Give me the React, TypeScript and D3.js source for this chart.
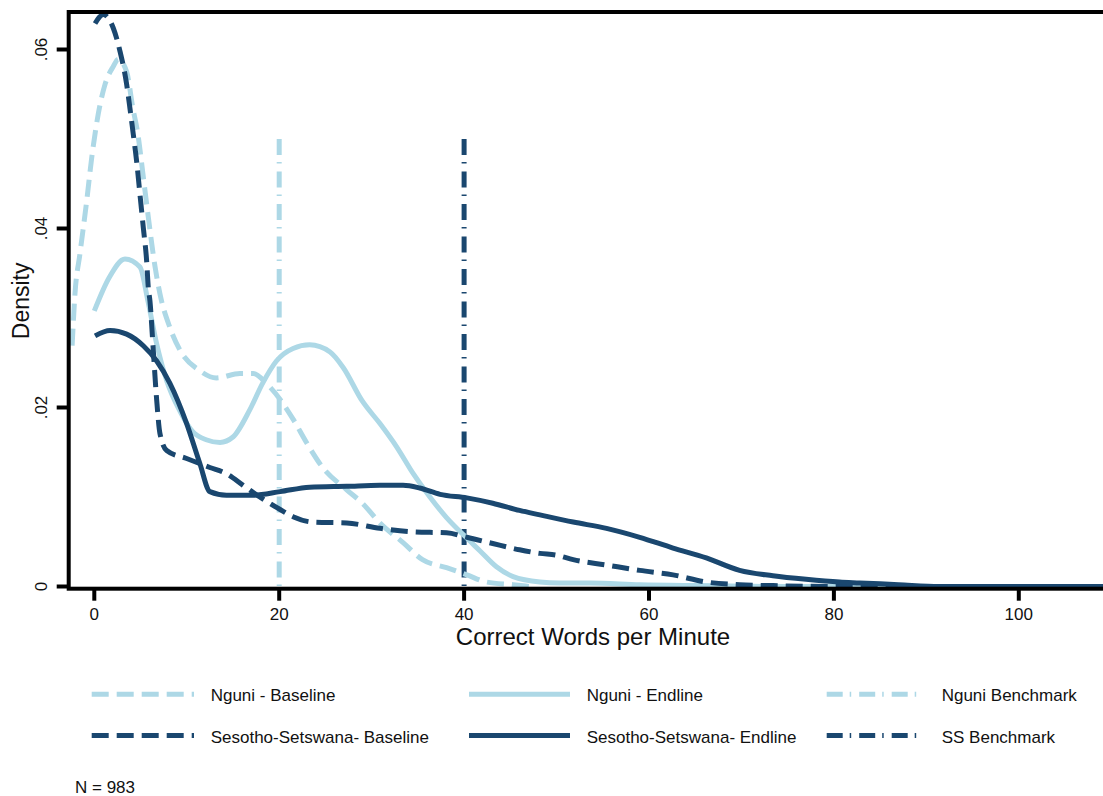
import React from "react";
import * as d3 from "d3";

// Kernel density curves: [correct words per minute, density]
const nguniBaseline: [number, number][] = [
  [-2.4, 0.0269], [-2.09, 0.0327], [-1.55, 0.0372], [-0.82, 0.0431], [-0.28, 0.0479],
  [0.43, 0.0528], [1.16, 0.0561], [2.05, 0.0581], [2.6, 0.0589], [3.5, 0.0575],
  [4.18, 0.0534], [4.72, 0.0505], [5.26, 0.0461], [5.8, 0.0416], [6.56, 0.0358],
  [7.1, 0.0327], [8.19, 0.0289], [9.27, 0.0264], [11.43, 0.0241], [13.2, 0.0233],
  [15.75, 0.0238], [17.2, 0.0238], [18.6, 0.0227], [20.1, 0.0209], [21.5, 0.0187],
  [23.0, 0.016], [24.7, 0.0133], [27.3, 0.0108], [29.0, 0.0093], [30.9, 0.0071],
  [33.4, 0.0049], [35.5, 0.003], [38.1, 0.0021], [40.3, 0.0013], [42.4, 0.0005],
  [45.3, 0.0002], [47.1, 0.0],
];

const nguniEndline: [number, number][] = [
  [0, 0.0308], [1.6, 0.0345], [3.32, 0.0366], [4.94, 0.0357], [5.8, 0.0319],
  [6.75, 0.0271], [7.83, 0.023], [9.26, 0.0196], [10.65, 0.0173], [12.1, 0.0164],
  [13.6, 0.0161], [15.0, 0.0167], [16.8, 0.0197], [18.2, 0.0227], [19.7, 0.0252],
  [21.5, 0.0266], [23.3, 0.027], [25.5, 0.0262], [26.9, 0.0245], [29.0, 0.0207],
  [30.9, 0.0182], [32.7, 0.0156], [34.5, 0.0126], [36.3, 0.01], [38.1, 0.0077],
  [39.9, 0.0058], [41.7, 0.004], [43.5, 0.0022], [45.3, 0.0011], [48.2, 0.0005],
  [50.3, 0.0004], [53.6, 0.0004], [59.0, 0.0002], [65.5, 0.0001], [75.0, 0.0], [90.0, 0.0],
];

const ssBaseline: [number, number][] = [
  [0.08, 0.0629], [0.97, 0.0639], [2.05, 0.0624], [2.78, 0.0598], [3.5, 0.0561],
  [3.86, 0.0534], [4.22, 0.0505], [4.58, 0.0475], [4.94, 0.0438], [5.3, 0.0401],
  [5.66, 0.0364], [5.84, 0.0334], [6.02, 0.0319], [6.38, 0.0264], [6.75, 0.0208],
  [7.1, 0.0171], [7.83, 0.0152], [9.99, 0.0143], [12.5, 0.0133], [14.3, 0.0126],
  [16.1, 0.0113], [17.9, 0.01], [20.1, 0.0086], [21.5, 0.0078], [23.6, 0.0072],
  [27.3, 0.0071], [30.9, 0.0065], [34.5, 0.0061], [38.1, 0.006], [40.3, 0.0055],
  [43.1, 0.0048], [46.0, 0.0041], [48.2, 0.0037], [50.0, 0.0035], [51.8, 0.003],
  [55.4, 0.0024], [59.0, 0.0018], [62.6, 0.0013], [66.2, 0.0005], [69.8, 0.0002],
  [73.4, 0.0001], [80.0, 0.0], [95.0, 0.0],
];

const ssEndline: [number, number][] = [
  [0.08, 0.028], [1.7, 0.0286], [3.5, 0.0282], [5.3, 0.0269], [6.75, 0.0252],
  [8.18, 0.0227], [9.99, 0.0182], [11.4, 0.0138], [12.5, 0.0106], [14.3, 0.0102],
  [17.2, 0.0102], [20.1, 0.0106], [23.3, 0.0111], [27.3, 0.0112], [30.9, 0.0113],
  [33.4, 0.0113], [35.2, 0.011], [37.4, 0.0103], [40.3, 0.0099], [43.1, 0.0093],
  [46.0, 0.0085], [48.2, 0.008], [51.8, 0.0072], [55.4, 0.0065], [59.0, 0.0055],
  [62.6, 0.0043], [66.2, 0.0032], [69.8, 0.0018], [73.4, 0.0012], [77.0, 0.0008],
  [80.6, 0.0005], [82.8, 0.0004], [87.0, 0.0002], [91.4, 0.0], [116.0, 0.0],
];

const nguniBenchmark = 20;
const ssBenchmark = 40;
const benchmarkTop = 0.05;

const xTicks = [0, 20, 40, 60, 80, 100];
const yTicks = [0, 0.02, 0.04, 0.06];
const yTickLabels = ["0", ".02", ".04", ".06"];

const legendLabels = [
  "Nguni - Baseline",
  "Nguni - Endline",
  "Nguni Benchmark",
  "Sesotho-Setswana- Baseline",
  "Sesotho-Setswana- Endline",
  "SS Benchmark",
];

const LIGHT = "#add8e6";
const DARK = "#1a476f";
const FONT = "'Liberation Sans', Arial, Helvetica, sans-serif";

export default function App() {
  const W = 1103;
  const H = 796;
  const left = 68.7;
  const top = 12;
  const bottom = 588.7;
  const right = 1117;

  const x = d3.scaleLinear().domain([0, 100]).range([94.3, 1018.8]);
  const y = d3.scaleLinear().domain([0, 0.06]).range([586.5, 49.5]);

  const line = d3
    .line<[number, number]>()
    .x((d) => x(d[0]))
    .y((d) => y(d[1]))
    .curve(d3.curveMonotoneX);

  const dash = "17 8";
  const dashDot = "16 7 1.5 8";

  const series = [
    { data: nguniBaseline, color: LIGHT, dash },
    { data: nguniEndline, color: LIGHT, dash: undefined },
    { data: ssBaseline, color: DARK, dash },
    { data: ssEndline, color: DARK, dash: undefined },
  ];

  const legendItems = [
    { color: LIGHT, dash: dash },
    { color: LIGHT, dash: undefined },
    { color: LIGHT, dash: dashDot },
    { color: DARK, dash: dash },
    { color: DARK, dash: undefined },
    { color: DARK, dash: dashDot },
  ];
  const colLineX = [91.7, 469, 826.7];
  const colLineW = [102.3, 101, 97.3];
  const colTextX = [210.7, 586.7, 941.7];
  const rowY = [694.3, 735.5];

  return (
    <div style={{ position: "fixed", left: 0, top: 0, width: W, height: H, background: "#fff" }}>
      <svg width={W} height={H} viewBox={`0 0 ${W} ${H}`} style={{ display: "block", fontFamily: FONT }}>
        <rect x={0} y={0} width={W} height={H} fill="#fff" />
        <defs>
          <clipPath id="plotclip">
            <rect x={left} y={top} width={right - left} height={bottom - top} />
          </clipPath>
        </defs>

        {/* benchmark lines */}
        <g clipPath="url(#plotclip)">
          {[
            { v: nguniBenchmark, color: LIGHT },
            { v: ssBenchmark, color: DARK },
          ].map((b, i) => (
            <line
              key={i}
              x1={x(b.v)}
              x2={x(b.v)}
              y1={y(benchmarkTop)}
              y2={y(0)}
              stroke={b.color}
              strokeWidth={5}
              strokeDasharray={dashDot}
            />
          ))}
          {series.map((s, i) => (
            <path
              key={i}
              d={line(s.data) || ""}
              fill="none"
              stroke={s.color}
              strokeWidth={5}
              strokeDasharray={s.dash}
              strokeLinejoin="round"
            />
          ))}
        </g>

        {/* frame / axes */}
        <rect x={left} y={top} width={right - left} height={bottom - top} fill="none" stroke="#000" strokeWidth={4} />

        {/* y axis ticks */}
        {yTicks.map((t, i) => (
          <g key={i}>
            <line x1={left - 12} x2={left} y1={y(t)} y2={y(t)} stroke="#000" strokeWidth={4} />
            <text
              transform={`translate(47,${y(t)}) rotate(-90)`}
              textAnchor="middle"
              fontSize={17}
              fill="#111"
            >
              {yTickLabels[i]}
            </text>
          </g>
        ))}
        <text transform={`translate(29,${(top + bottom) / 2 + 0.5}) rotate(-90)`} textAnchor="middle" fontSize={23} fill="#111">
          Density
        </text>

        {/* x axis ticks */}
        {xTicks.map((t, i) => (
          <g key={i}>
            <line x1={x(t)} x2={x(t)} y1={bottom} y2={bottom + 12} stroke="#000" strokeWidth={4} />
            <text x={x(t)} y={619.5} textAnchor="middle" fontSize={17} fill="#111">
              {t}
            </text>
          </g>
        ))}
        <text x={593} y={645} textAnchor="middle" fontSize={24} fill="#111">
          Correct Words per Minute
        </text>

        {/* legend */}
        {legendItems.map((it, i) => {
          const col = i % 3;
          const row = Math.floor(i / 3);
          return (
            <g key={i}>
              <line
                x1={colLineX[col]}
                x2={colLineX[col] + colLineW[col]}
                y1={rowY[row]}
                y2={rowY[row]}
                stroke={it.color}
                strokeWidth={5}
                strokeDasharray={it.dash}
              />
              <text x={colTextX[col]} y={rowY[row] + 7} fontSize={17} fill="#111">
                {legendLabels[i]}
              </text>
            </g>
          );
        })}

        <text x={75} y={793} fontSize={17} fill="#111">
          N = 983
        </text>
      </svg>
    </div>
  );
}
